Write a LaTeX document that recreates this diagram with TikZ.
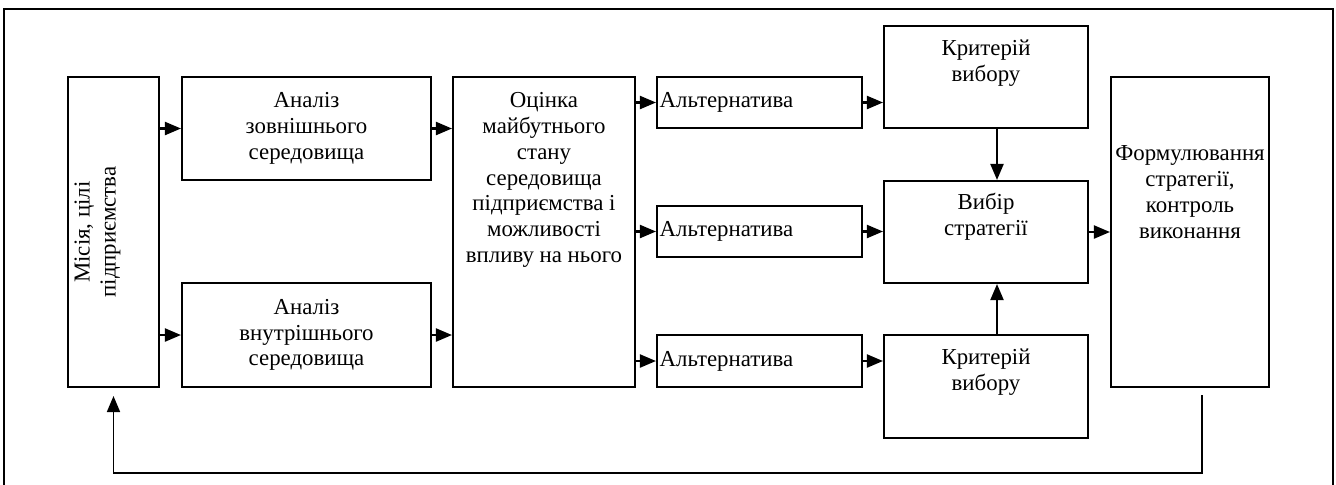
\documentclass[tikz,border=0pt]{standalone}
\usepackage{fontspec}
\setmainfont{Liberation Serif}
\usetikzlibrary{arrows.meta}

\tikzset{
	blk/.style={draw, line width=1.2pt, inner sep=0pt},
	txt/.style={align=center, font=\fontsize{13}{14.7}\selectfont},
	alttxt/.style={txt, align=left, inner xsep=1.5pt, text width=4.1cm-3pt},
}

\begin{document}
\begin{tikzpicture}[x=0.02cm, y=-0.02cm, >={Triangle[length=0.32cm, width=0.26cm]}, line width=1.2pt]
	\useasboundingbox (0,0) rectangle (1336,484);
	% Рамка
	\draw[line width=1.5pt] (4,500) -- (4,9) -- (1333,9) -- (1333,500);

	% Блоки
	\node[blk, minimum width=1.82cm, minimum height=6.2cm,
		label={[txt, xshift=-0.32cm, rotate=90]center:Місія, цілі\\підприємства}] (mis) at (113.5,232) {};
	\node[blk, txt, minimum width=4.98cm, minimum height=2.06cm] (ext) at (306.5,128.5) {Аналіз\\зовнішнього\\середовища};
	\node[blk, txt, minimum width=4.98cm, minimum height=2.08cm] (int) at (306.5,335) {Аналіз\\внутрішнього\\середовища};
	\node[blk, minimum width=3.64cm, minimum height=6.2cm,
		label={[txt, yshift=1.04cm]center:Оцінка\\майбутнього\\стану\\середовища\\підприємства і\\можливості\\впливу на нього}] (assess) at (544,232) {};

	\node[blk, alttxt, minimum height=1.02cm] (alt1) at (759.5,102.5) {Альтернатива};
	\node[blk, alttxt, minimum height=1.02cm] (alt2) at (759.5,231.5) {Альтернатива};
	\node[blk, alttxt, minimum height=1.04cm] (alt3) at (759.5,361) {Альтернатива};

	\node[blk, minimum width=4.08cm, minimum height=2.04cm,
		label={[txt, yshift=0.27cm]center:Критерій\\вибору}] (crit1) at (986,77) {};
	\node[blk, minimum width=4.08cm, minimum height=2.04cm,
		label={[txt, yshift=0.30cm]center:Вибір\\стратегії}] (choice) at (986,232) {};
	\node[blk, minimum width=4.08cm, minimum height=2.06cm,
		label={[txt, yshift=0.29cm]center:Критерій\\вибору}] (crit2) at (986,386.5) {};

	\node[blk, minimum width=3.16cm, minimum height=6.2cm,
		label={[txt, yshift=0.8cm]center:Формулювання\\стратегії,\\контроль\\виконання}] (form) at (1190,232) {};

	% Стрілки
	\draw[->] (ext.west -| mis.east) -- (ext.west);
	\draw[->] (int.west -| mis.east) -- (int.west);
	\draw[->] (ext.east) -- (ext.east -| assess.west);
	\draw[->] (int.east) -- (int.east -| assess.west);
	\foreach \i in {1,2,3}
		\draw[->] (alt\i.west -| assess.east) -- (alt\i.west);
	\draw[->] (alt1.east) -- (alt1.east -| crit1.west);
	\draw[->] (alt2.east) -- (alt2.east -| choice.west);
	\draw[->] (alt3.east) -- (alt3.east -| crit2.west);
	\draw[->] ([xshift=0.22cm]crit1.south) -- ([xshift=0.22cm]choice.north);
	\draw[->] ([xshift=0.22cm]crit2.north) -- ([xshift=0.22cm]choice.south);
	\draw[->] (choice.east) -- (choice.east -| form.west);

	% Зворотний зв'язок
	\draw[->, line width=1pt] ([xshift=0.24cm, yshift=-0.14cm]form.south) -- ++(0,78) -| ([yshift=-0.16cm]mis.south);
\end{tikzpicture}
\end{document}
